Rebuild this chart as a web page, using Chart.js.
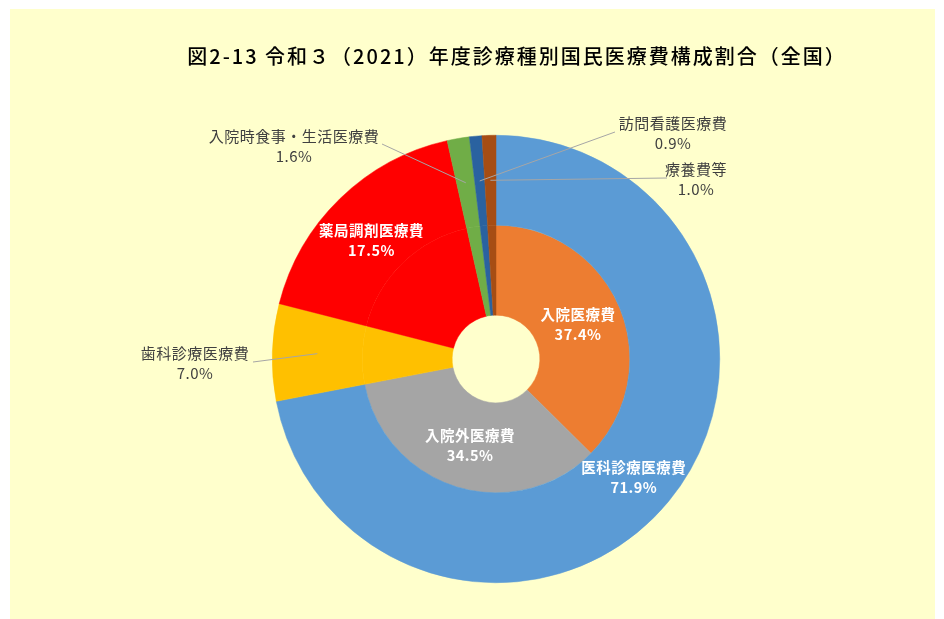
<!DOCTYPE html>
<html lang="ja">
<head>
<meta charset="utf-8">
<title>国民医療費構成割合</title>
<script src="https://cdn.jsdelivr.net/npm/chart.js@4.4.1/dist/chart.umd.min.js"></script>
<style>
    html, body { margin: 0; padding: 0; background: #ffffff; }
    canvas { display: block; }
</style>
</head>
<body>
<canvas id="costChart" width="944" height="619"></canvas>
<script>
// 外側の輪: 診療種別
const outerLabels = ['医科診療医療費', '歯科診療医療費', '薬局調剤医療費', '入院時食事・生活医療費', '訪問看護医療費', '療養費等'];
const outerValues = [71.9, 7.0, 17.5, 1.6, 0.9, 1.0];
const outerColors = ['#5b9bd5', '#ffc000', '#ff0000', '#70ad47', '#2a62a0', '#a64d14'];

// 内側の輪: 医科診療医療費の内訳
const innerLabels = ['入院医療費', '入院外医療費'];
const innerValues = [37.4, 34.5];
const innerColors = ['#ed7d31', '#a5a5a5'];

const titleText = '図2-13 令和３（2021）年度診療種別国民医療費構成割合（全国）';
const fontFamily = '"Noto Sans CJK JP", "Noto Sans", sans-serif';

// 内側の輪の残りは外側と同じ色で埋めて、中心の穴まで一続きに見せる
const innerData = innerValues.concat(outerValues.slice(1));
const innerFill = innerColors.concat(outerColors.slice(1));
const innerNames = innerLabels.concat(outerLabels.slice(1));

// 外側に置くラベル (文字の中心と引き出し線の始点)
const calloutSpots = [
    { ds: 0, i: 3, x: 294, y: 146, lx: 382, ly: 144 },
    { ds: 0, i: 4, x: 673, y: 133, lx: 615, ly: 132 },
    { ds: 0, i: 5, x: 696, y: 179, lx: 667, ly: 178 },
    { ds: 0, i: 1, x: 195, y: 363, lx: 253, ly: 362 }
];
// 扇形の中に置く白いラベル
const insideSpots = [
    { ds: 0, i: 0, dy: 5 },
    { ds: 0, i: 2, dy: 10 },
    { ds: 1, i: 0, dy: 0 },
    { ds: 1, i: 1, dy: 2 }
];

const panelPlugin = {
    id: 'panel',
    beforeDraw(chart) {
        const ctx = chart.ctx;
        ctx.save();
        ctx.fillStyle = '#ffffcc';
        ctx.fillRect(10, 9, 925, 610);
        ctx.fillStyle = '#000000';
        ctx.font = '500 20px ' + fontFamily;
        ctx.letterSpacing = '2px';
        ctx.textAlign = 'center';
        ctx.textBaseline = 'middle';
        ctx.fillText(titleText, 517, 56);
        ctx.restore();
    }
};

function sliceName(ds, i) {
    return ds === 0 ? outerLabels[i] : innerNames[i];
}
function sliceValue(ds, i) {
    return ds === 0 ? outerValues[i] : innerData[i];
}

const labelPlugin = {
    id: 'sliceLabels',
    afterDatasetsDraw(chart) {
        const ctx = chart.ctx;
        ctx.save();
        ctx.textAlign = 'center';
        ctx.textBaseline = 'middle';

        // 引き出し線
        ctx.strokeStyle = '#a6a6a6';
        ctx.lineWidth = 1;
        calloutSpots.forEach(s => {
            const arc = chart.getDatasetMeta(s.ds).data[s.i];
            const p = arc.getCenterPoint();
            ctx.beginPath();
            ctx.moveTo(s.lx, s.ly);
            ctx.lineTo(p.x, p.y);
            ctx.stroke();
        });

        ctx.letterSpacing = '0.5px';
        ctx.fillStyle = '#404040';
        ctx.font = '15px ' + fontFamily;
        calloutSpots.forEach(s => {
            ctx.fillText(sliceName(s.ds, s.i), s.x, s.y - 10);
            ctx.fillText(sliceValue(s.ds, s.i).toFixed(1) + '%', s.x, s.y + 10);
        });

        ctx.fillStyle = '#ffffff';
        ctx.font = 'bold 14.5px ' + fontFamily;
        insideSpots.forEach(s => {
            const arc = chart.getDatasetMeta(s.ds).data[s.i];
            const p = arc.getCenterPoint();
            ctx.fillText(sliceName(s.ds, s.i), p.x, p.y + s.dy - 10);
            ctx.fillText(sliceValue(s.ds, s.i).toFixed(1) + '%', p.x, p.y + s.dy + 10);
        });
        ctx.restore();
    }
};

new Chart(document.getElementById('costChart'), {
    type: 'doughnut',
    data: {
        labels: outerLabels,
        datasets: [
            {
                data: outerValues,
                backgroundColor: outerColors,
                borderColor: outerColors,
                borderWidth: 0.5
            },
            {
                data: innerData,
                backgroundColor: innerFill,
                borderColor: innerFill,
                borderWidth: 0.5
            }
        ]
    },
    options: {
        responsive: false,
        animation: false,
        cutout: '19.6%',
        layout: {
            padding: { left: 272, right: 224, top: 135, bottom: 36 }
        },
        plugins: {
            legend: { display: false },
            tooltip: { enabled: false }
        }
    },
    plugins: [panelPlugin, labelPlugin]
});
</script>
</body>
</html>
